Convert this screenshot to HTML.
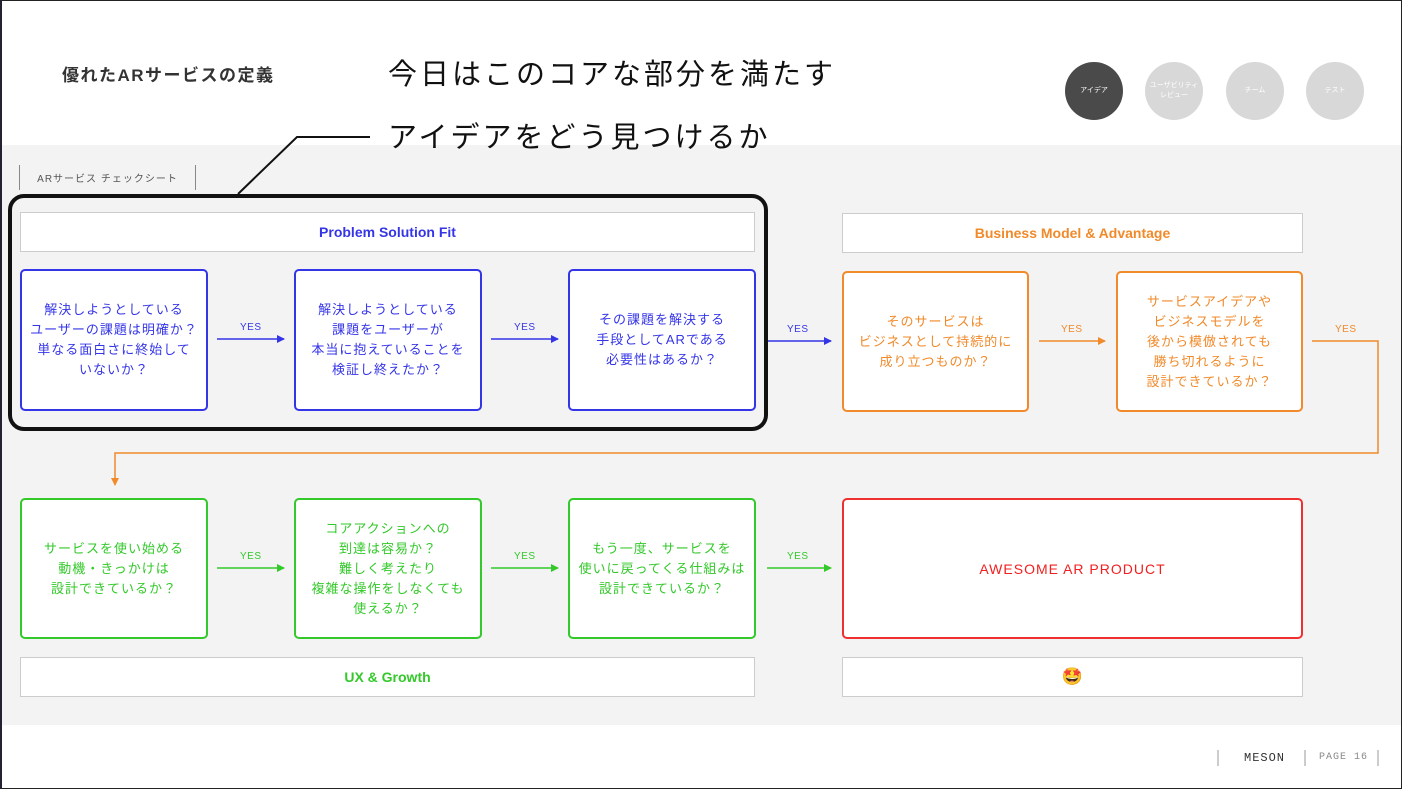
<!DOCTYPE html>
<html><head><meta charset="utf-8"><style>
*{margin:0;padding:0;box-sizing:border-box}
body{width:1402px;height:789px;position:relative;background:#fff;font-family:"Liberation Sans","Noto Sans CJK JP",sans-serif;overflow:hidden}
.frame{position:absolute;left:0;top:0;width:1402px;height:789px;border:1px solid #222;border-left:2px solid #223;}
.abs{position:absolute}
.bg{left:2px;top:145px;width:1399px;height:580px;background:#f3f3f3}
.box{position:absolute;background:#fff;border:2px solid;border-radius:5px;display:flex;align-items:center;justify-content:center;text-align:center;font-size:13px;line-height:20px;letter-spacing:1px}
.hdr{position:absolute;background:#fff;border:1px solid #ccc;display:flex;align-items:center;justify-content:center;font-size:14px;font-weight:bold}
.b{color:#3535e8;border-color:#3535e8}
.o{color:#f08a2a;border-color:#f08a2a}
.g{color:#33c92a;border-color:#33c92a}
.yes{position:absolute;font-size:10px;letter-spacing:.5px}
.circ{position:absolute;width:58px;height:58px;border-radius:50%;background:#d8d8d8;color:#fff;font-size:7px;display:flex;align-items:center;justify-content:center;text-align:center;line-height:10px}
</style></head><body>
<div class="abs bg"></div>
<div class="abs" style="left:62px;top:61px;font-size:17px;font-weight:bold;color:#333;letter-spacing:1.5px">優れたARサービスの定義</div>
<div class="abs" style="left:388px;top:51px;font-size:29px;color:#111;letter-spacing:3px">今日はこのコアな部分を満たす</div>
<div class="abs" style="left:388px;top:114px;font-size:29px;color:#111;letter-spacing:3px">アイデアをどう見つけるか</div>
<div class="circ" style="left:1065px;top:62px;background:#4a4a4a">アイデア</div>
<div class="circ" style="left:1145px;top:62px">ユーザビリティ<br>レビュー</div>
<div class="circ" style="left:1226px;top:62px">チーム</div>
<div class="circ" style="left:1306px;top:62px">テスト</div>
<div class="abs" style="left:19px;top:165px;width:177px;height:25px;border-left:1px solid #888;border-right:1px solid #888;font-size:10px;color:#555;display:flex;align-items:center;justify-content:center;letter-spacing:1px">ARサービス チェックシート</div>

<div class="hdr b" style="left:20px;top:212px;width:735px;height:40px;border-color:#ccc">Problem Solution Fit</div>
<div class="hdr o" style="left:842px;top:213px;width:461px;height:40px;border-color:#ccc">Business Model &amp; Advantage</div>
<div class="hdr g" style="left:20px;top:657px;width:735px;height:40px;border-color:#ccc">UX &amp; Growth</div>
<div class="hdr" style="left:842px;top:657px;width:461px;height:40px;font-size:17px">🤩</div>

<div class="box b" style="left:20px;top:269px;width:188px;height:142px">解決しようとしている<br>ユーザーの課題は明確か？<br>単なる面白さに終始して<br>いないか？</div>
<div class="box b" style="left:294px;top:269px;width:188px;height:142px">解決しようとしている<br>課題をユーザーが<br>本当に抱えていることを<br>検証し終えたか？</div>
<div class="box b" style="left:568px;top:269px;width:188px;height:142px">その課題を解決する<br>手段としてARである<br>必要性はあるか？</div>
<div class="box o" style="left:842px;top:271px;width:187px;height:141px">そのサービスは<br>ビジネスとして持続的に<br>成り立つものか？</div>
<div class="box o" style="left:1116px;top:271px;width:187px;height:141px">サービスアイデアや<br>ビジネスモデルを<br>後から模倣されても<br>勝ち切れるように<br>設計できているか？</div>
<div class="box g" style="left:20px;top:498px;width:188px;height:141px">サービスを使い始める<br>動機・きっかけは<br>設計できているか？</div>
<div class="box g" style="left:294px;top:498px;width:188px;height:141px">コアアクションへの<br>到達は容易か？<br>難しく考えたり<br>複雑な操作をしなくても<br>使えるか？</div>
<div class="box g" style="left:568px;top:498px;width:188px;height:141px">もう一度、サービスを<br>使いに戻ってくる仕組みは<br>設計できているか？</div>
<div class="box" style="left:842px;top:498px;width:461px;height:141px;color:#f02020;border-color:#f03030;font-size:14px">AWESOME AR PRODUCT</div>

<div class="yes" style="left:240px;top:322px;color:#3535e8">YES</div>
<div class="yes" style="left:514px;top:322px;color:#3535e8">YES</div>
<div class="yes" style="left:787px;top:324px;color:#3535e8">YES</div>
<div class="yes" style="left:1061px;top:324px;color:#f08a2a">YES</div>
<div class="yes" style="left:1335px;top:324px;color:#f08a2a">YES</div>
<div class="yes" style="left:240px;top:551px;color:#33c92a">YES</div>
<div class="yes" style="left:514px;top:551px;color:#33c92a">YES</div>
<div class="yes" style="left:787px;top:551px;color:#33c92a">YES</div>

<svg class="abs" style="left:0;top:0" width="1402" height="789">
<defs>
<marker id="mb" markerWidth="8" markerHeight="8" refX="7" refY="4" orient="auto" markerUnits="userSpaceOnUse"><path d="M0,0L8,4L0,8z" fill="#3535e8"/></marker>
<marker id="mo" markerWidth="8" markerHeight="8" refX="7" refY="4" orient="auto" markerUnits="userSpaceOnUse"><path d="M0,0L8,4L0,8z" fill="#f08a2a"/></marker>
<marker id="mg" markerWidth="8" markerHeight="8" refX="7" refY="4" orient="auto" markerUnits="userSpaceOnUse"><path d="M0,0L8,4L0,8z" fill="#33c92a"/></marker>
</defs>
<g stroke-width="1.5" fill="none">
<line x1="217" y1="339" x2="284" y2="339" stroke="#3535e8" marker-end="url(#mb)"/>
<line x1="491" y1="339" x2="558" y2="339" stroke="#3535e8" marker-end="url(#mb)"/>
<line x1="767" y1="341" x2="831" y2="341" stroke="#3535e8" marker-end="url(#mb)"/>
<line x1="1039" y1="341" x2="1105" y2="341" stroke="#f08a2a" marker-end="url(#mo)"/>
<path d="M1312,341H1378V453H115V485" stroke="#f08a2a" marker-end="url(#mo)"/>
<line x1="217" y1="568" x2="284" y2="568" stroke="#33c92a" marker-end="url(#mg)"/>
<line x1="491" y1="568" x2="558" y2="568" stroke="#33c92a" marker-end="url(#mg)"/>
<line x1="767" y1="568" x2="831" y2="568" stroke="#33c92a" marker-end="url(#mg)"/>
<path d="M238,194L297,137H370" stroke="#111" stroke-width="2"/>
<rect x="10" y="196" width="756" height="233" rx="14" stroke="#111" stroke-width="4"/>
</g>
<g stroke="#999" stroke-width="1">
<line x1="1218" y1="750" x2="1218" y2="766"/><line x1="1305" y1="750" x2="1305" y2="766"/><line x1="1378" y1="750" x2="1378" y2="766"/>
</g>
</svg>
<div class="abs" style="left:1244px;top:751px;font-size:12px;color:#333;letter-spacing:1px;font-family:'Liberation Mono',monospace">MESON</div>
<div class="abs" style="left:1319px;top:752px;font-size:10px;color:#888;letter-spacing:1px;font-family:'Liberation Mono',monospace">PAGE 16</div>
<div class="frame"></div>
</body></html>
